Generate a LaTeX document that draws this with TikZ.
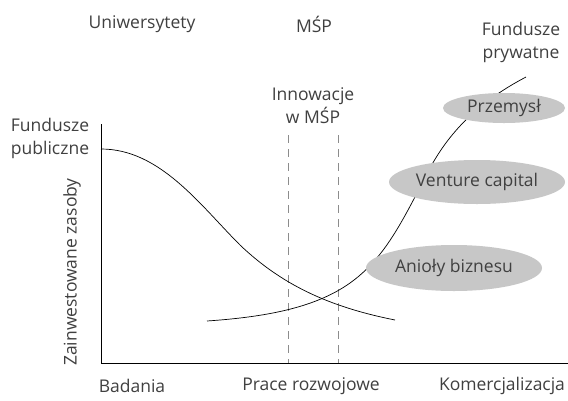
\documentclass[tikz,border=0pt]{standalone}
\usepackage{fontspec}
\setmainfont{Open Sans}
\usetikzlibrary{shapes.geometric}

\tikzset{
  lbl/.style={text=black!75, font=\fontsize{17.5}{23}\selectfont, inner sep=0pt, align=center},
  chmura/.style={ellipse, fill=black!22, draw=none, text=black!75, font=\fontsize{17.5}{23}\selectfont, inner sep=0pt},
  kreska/.style={draw=black!45, dash pattern=on 8pt off 6pt, line width=0.9pt}
}

\begin{document}
\begin{tikzpicture}[x=1pt, y=-1pt, line width=0.7pt]
\useasboundingbox[fill=white] (0,0) rectangle (568,400);
% osie
\coordinate (top) at (101,124);
\coordinate (zero) at (101,363);
\coordinate (end) at (568,363);
\draw (top) -- (zero) -- (end);
% linie przerywane
\coordinate (d1a) at (288,135); \coordinate (d1b) at (288,363);
\coordinate (d2a) at (338,135); \coordinate (d2b) at (338,363);
\draw[kreska] (d1a) -- (d1b);
\draw[kreska] (d2a) -- (d2b);
% krzywe
\draw (101,149) .. controls (160,149) and (200,205) .. (240,245)
      .. controls (285,288) and (335,308) .. (395,320);
\draw (207,321) .. controls (265,317) and (315,308) .. (350,283)
      .. controls (385,258) and (402,222) .. (430,168)
      .. controls (455,122) and (490,96) .. (526,77);
% elipsy
\node[chmura, minimum width=122pt, minimum height=30pt] (prz) at (504,108) {Przemysł};
\node[chmura, minimum width=176pt, minimum height=44pt] (vc) at (477,182) {Venture capital};
\node[chmura, minimum width=176pt, minimum height=46pt] (anioly) at (454,268) {Anioły biznesu};
% opisy
\node[lbl] (uni) at (142,24) {Uniwersytety};
\node[lbl] (msp) at (314,24) {MŚP};
\node[lbl] (fprv) at (521,42) {Fundusze\\prywatne};
\node[lbl] (inn) at (313,106) {Innowacje\\w MŚP};
\node[lbl] (fpub) at (50,138) {Fundusze\\publiczne};
\node[lbl, rotate=90] (zas) at (72,272) {Zainwestowane zasoby};
\node[lbl] (bad) at (132,386) {Badania};
\node[lbl] (prace) at (311,386) {Prace rozwojowe};
\node[lbl] (kom) at (502,386) {Komercjalizacja};
\end{tikzpicture}
\end{document}
